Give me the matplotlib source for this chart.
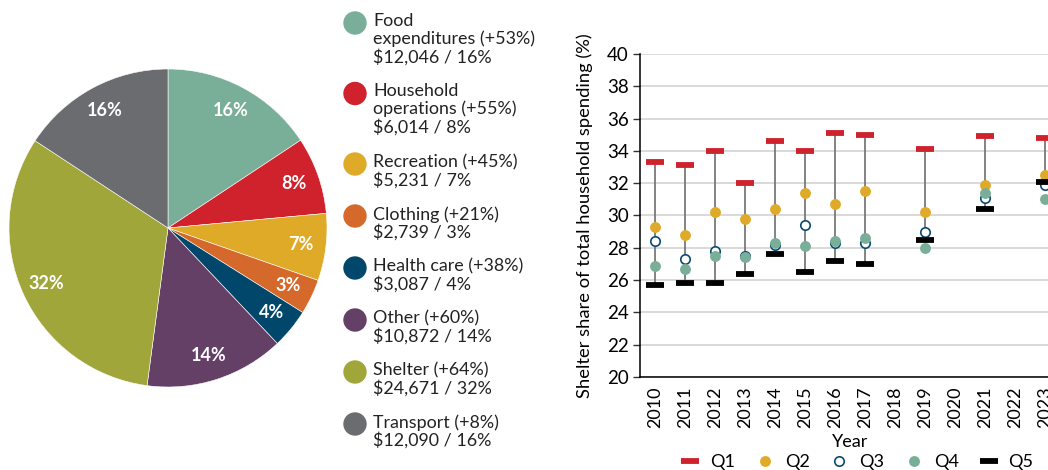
import matplotlib
matplotlib.use("Agg")
import matplotlib.pyplot as plt
import numpy as np

plt.rcParams['font.family'] = ['Lato', 'DejaVu Sans']

# ---- Pie data ----
cat_names = ["Food\nexpenditures", "Household\noperations", "Recreation", "Clothing",
             "Health care", "Other", "Shelter", "Transport"]
cat_change = ["+53%", "+55%", "+45%", "+21%", "+38%", "+60%", "+64%", "+8%"]
cat_dollars = [12046, 6014, 5231, 2739, 3087, 10872, 24671, 12090]
cat_pct = [16, 8, 7, 3, 4, 14, 32, 16]
cat_colors = ["#79ae98", "#cf222d", "#e0aa29", "#d5692b", "#00476b", "#643f66", "#a1a63a", "#6b6c70"]

# ---- Scatter data ----
years = [2010, 2011, 2012, 2013, 2014, 2015, 2016, 2017, 2019, 2021, 2023]
all_years = list(range(2010, 2024))
q1 = [33.3, 33.1, 34.0, 32.0, 34.6, 34.0, 35.1, 35.0, 34.1, 34.9, 34.8]
q2 = [29.3, 28.8, 30.2, 29.8, 30.4, 31.4, 30.7, 31.5, 30.2, 31.9, 32.5]
q3 = [28.4, 27.3, 27.8, 27.5, 28.2, 29.4, 28.3, 28.3, 29.0, 31.1, 31.9]
q4 = [26.9, 26.7, 27.5, 27.4, 28.3, 28.1, 28.4, 28.6, 28.0, 31.4, 31.0]
q5 = [25.7, 25.8, 25.8, 26.4, 27.6, 26.5, 27.2, 27.0, 28.5, 30.4, 32.1]
yticks = list(range(20, 41, 2))

W, H = 1048, 470
fig = plt.figure(figsize=(W / 100, H / 100), dpi=100)

# ---- Pie ----
cx, cy, r = 168, 228, 159
axp = fig.add_axes([(cx - r) / W, (H - cy - r) / H, 2 * r / W, 2 * r / H])
wedges, _ = axp.pie(cat_dollars, colors=cat_colors, startangle=90, counterclock=False,
                    wedgeprops=dict(linewidth=0.4, edgecolor='white'))
for w, p in zip(wedges, cat_pct):
    ang = np.deg2rad((w.theta1 + w.theta2) / 2)
    axp.text(0.84 * np.cos(ang), 0.84 * np.sin(ang), f"{p}%", color='white',
             fontsize=13, fontweight='bold', ha='center', va='center')
axp.set_xlim(-1, 1)
axp.set_ylim(-1, 1)
axp.set_aspect('equal')
axp.axis('off')

# ---- Pie legend (manual) ----
ypix = 23
line_h = 18.5
for name, ch, d, p, c in zip(cat_names, cat_change, cat_dollars, cat_pct, cat_colors):
    txt = f"{name} ({ch})\n${d:,} / {p}%"
    nlines = txt.count("\n") + 1
    fig.patches.append(matplotlib.patches.Ellipse((355 / W, 1 - ypix / H), 22 / W, 22 / H,
                                                  transform=fig.transFigure, color=c))
    fig.text(373 / W, 1 - (ypix - 10) / H, txt, fontsize=12.9, va='top', ha='left',
             color='#222222', linespacing=1.1)
    ypix += nlines * line_h + 15.0

# ---- Scatter ----
x0, x1 = 640, 1060
ytop, ybot = 54, 377
ax = fig.add_axes([x0 / W, (H - ybot) / H, (x1 - x0) / W, (ybot - ytop) / H])
ax.set_xlim(2009.5, 2023.5)
ax.set_ylim(20, 40)
ax.set_yticks(yticks)
ax.set_xticks(all_years)
ax.set_xticklabels([str(y) for y in all_years], rotation=90)
ax.grid(axis='y', color='#cfcfcf', linewidth=1.1)
ax.set_axisbelow(True)
for s in ['top', 'right']:
    ax.spines[s].set_visible(False)
ax.spines['left'].set_linewidth(1.1)
ax.spines['bottom'].set_linewidth(1.1)
ax.tick_params(axis='y', length=5, width=1, labelsize=13.5, pad=3, color='#333333')
ax.tick_params(axis='x', length=0, labelsize=13, pad=7)

ax.vlines(years, q5, q1, color='#6e6e6e', linewidth=1.2, zorder=2)
ax.plot(years, q1, ls='none', marker='_', markersize=13, mew=4.2, color='#cf222d', zorder=3, label='Q1')
ax.plot(years, q2, ls='none', marker='o', markersize=6.8, color='#e0aa29', mec='#e0aa29', zorder=3, label='Q2')
ax.plot(years, q3, ls='none', marker='o', markersize=6.8, mfc='white', mec='#0b4a6f', mew=1.2, zorder=3, label='Q3')
ax.plot(years, q4, ls='none', marker='o', markersize=6.8, color='#79ae98', mec='#79ae98', zorder=3, label='Q4')
ax.plot(years, q5, ls='none', marker='_', markersize=13, mew=4.2, color='black', zorder=3, label='Q5')

ax.set_ylabel("Shelter share of total household spending (%)", fontsize=13.2, va='center')
ax.yaxis.set_label_coords((585 - x0) / (x1 - x0), 0.5)
ax.set_xlabel("Year", fontsize=13, va='center')
ax.xaxis.set_label_coords(0.5, (ybot - 442) / (ybot - ytop))

fig.legend(loc='center', bbox_to_anchor=(856 / W, 8 / H), ncol=5, frameon=False,
           fontsize=13, handlelength=1.3, columnspacing=1.0, handletextpad=0.45)

fig.savefig("out.png", dpi=100)
